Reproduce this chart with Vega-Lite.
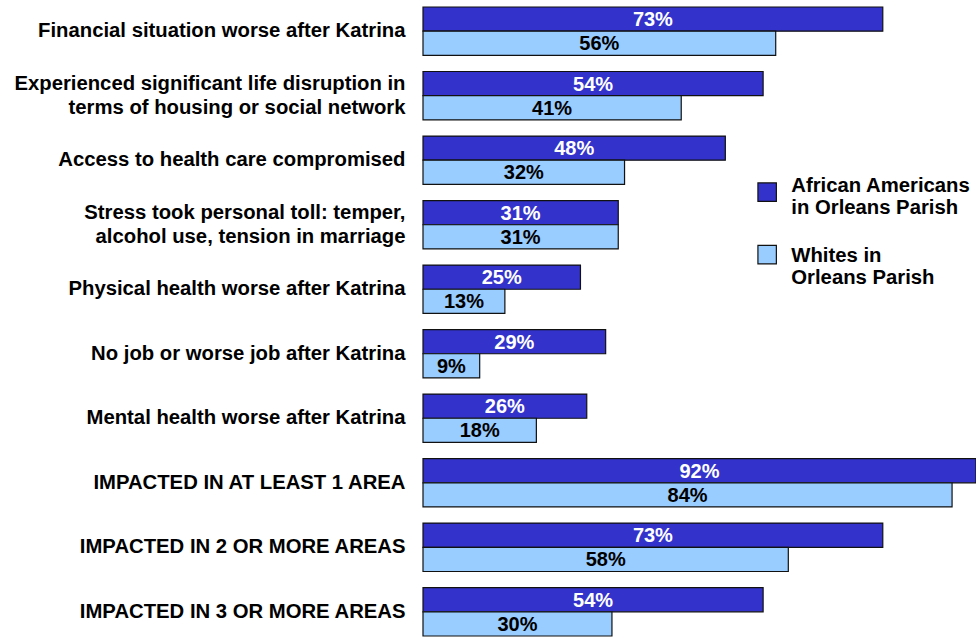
{
  "$schema": "https://vega.github.io/schema/vega-lite/v6.json",
  "width": 553,
  "height": 629,
  "padding": {"left": 5, "top": 6, "right": 0, "bottom": 0},
  "autosize": {"type": "pad"},
  "background": "white",
  "config": {"view": {"stroke": null}, "font": "Liberation Sans"},
  "data": {
    "values": [
      {"cat": "Financial situation worse after Katrina", "group": "African Americans|in Orleans Parish", "value": 73},
      {"cat": "Financial situation worse after Katrina", "group": "Whites in|Orleans Parish", "value": 56},
      {"cat": "Experienced significant life disruption in|terms of housing or social network", "group": "African Americans|in Orleans Parish", "value": 54},
      {"cat": "Experienced significant life disruption in|terms of housing or social network", "group": "Whites in|Orleans Parish", "value": 41},
      {"cat": "Access to health care compromised", "group": "African Americans|in Orleans Parish", "value": 48},
      {"cat": "Access to health care compromised", "group": "Whites in|Orleans Parish", "value": 32},
      {"cat": "Stress took personal toll: temper,|alcohol use, tension in marriage", "group": "African Americans|in Orleans Parish", "value": 31},
      {"cat": "Stress took personal toll: temper,|alcohol use, tension in marriage", "group": "Whites in|Orleans Parish", "value": 31},
      {"cat": "Physical health worse after Katrina", "group": "African Americans|in Orleans Parish", "value": 25},
      {"cat": "Physical health worse after Katrina", "group": "Whites in|Orleans Parish", "value": 13},
      {"cat": "No job or worse job after Katrina", "group": "African Americans|in Orleans Parish", "value": 29},
      {"cat": "No job or worse job after Katrina", "group": "Whites in|Orleans Parish", "value": 9},
      {"cat": "Mental health worse after Katrina", "group": "African Americans|in Orleans Parish", "value": 26},
      {"cat": "Mental health worse after Katrina", "group": "Whites in|Orleans Parish", "value": 18},
      {"cat": "IMPACTED IN AT LEAST 1 AREA", "group": "African Americans|in Orleans Parish", "value": 92},
      {"cat": "IMPACTED IN AT LEAST 1 AREA", "group": "Whites in|Orleans Parish", "value": 84},
      {"cat": "IMPACTED IN 2 OR MORE AREAS", "group": "African Americans|in Orleans Parish", "value": 73},
      {"cat": "IMPACTED IN 2 OR MORE AREAS", "group": "Whites in|Orleans Parish", "value": 58},
      {"cat": "IMPACTED IN 3 OR MORE AREAS", "group": "African Americans|in Orleans Parish", "value": 54},
      {"cat": "IMPACTED IN 3 OR MORE AREAS", "group": "Whites in|Orleans Parish", "value": 30}
    ]
  },
  "transform": [
    {"calculate": "min(datum.value, 87.8) / 2", "as": "mid"},
    {"calculate": "datum.value + '%'", "as": "lbl"}
  ],
  "encoding": {
    "y": {
      "field": "cat",
      "type": "nominal",
      "sort": null,
      "scale": {"paddingInner": 0.25, "paddingOuter": 0},
      "axis": {
        "title": null,
        "domain": false,
        "ticks": false,
        "labelExpr": "split(datum.label, '|')",
        "labelFont": "Liberation Sans",
        "labelFontSize": 20.3,
        "labelFontWeight": "bold",
        "labelColor": "black",
        "labelLimit": 0,
        "labelPadding": 18,
        "labelLineHeight": 24,
        "labelOffset": {"condition": {"test": "indexof(datum.value, '|') >= 0", "value": -12}, "value": 0},
        "minExtent": 418,
        "maxExtent": 418
      }
    },
    "yOffset": {
      "field": "group",
      "type": "nominal",
      "sort": ["African Americans|in Orleans Parish", "Whites in|Orleans Parish"],
      "scale": {"paddingInner": 0, "paddingOuter": 0}
    }
  },
  "layer": [
    {
      "mark": {"type": "bar", "stroke": "#111", "strokeWidth": 1.2},
      "encoding": {
        "x": {
          "field": "value",
          "type": "quantitative",
          "scale": {"domain": [0, 87.8], "clamp": true, "nice": false, "zero": true},
          "axis": null
        },
        "color": {
          "field": "group",
          "type": "nominal",
          "sort": ["African Americans|in Orleans Parish", "Whites in|Orleans Parish"],
          "scale": {"range": ["#3333CC", "#99CCFF"]},
          "legend": {
            "title": null,
            "orient": "none",
            "legendX": 334,
            "legendY": 175,
            "padding": 0,
            "symbolType": "square",
            "symbolSize": 340,
            "symbolStrokeColor": "#111",
            "symbolStrokeWidth": 1.2,
            "labelExpr": "split(datum.label, '|')",
            "labelFont": "Liberation Sans",
            "labelFontSize": 20.3,
            "labelFontWeight": "bold",
            "labelColor": "black",
            "labelLimit": 0,
            "labelOffset": 14,
            "labelLineHeight": 24,
            "labelBaseline": "alphabetic",
            "rowPadding": 23.5,
            "encode": {
              "labels": {
                "update": {
                  "dy": {"signal": "datum.value === 'Whites in|Orleans Parish' ? 7 : 0"}
                }
              }
            }
          }
        }
      }
    },
    {
      "mark": {"type": "text", "font": "Liberation Sans", "fontSize": 20, "fontWeight": "bold", "align": "center", "baseline": "middle", "dy": 1},
      "encoding": {
        "x": {"field": "mid", "type": "quantitative", "scale": {"domain": [0, 87.8], "clamp": true, "nice": false}},
        "text": {"field": "lbl"},
        "color": {
          "condition": {"test": "datum.group == 'African Americans|in Orleans Parish'", "value": "white"},
          "value": "black"
        }
      }
    }
  ]
}
